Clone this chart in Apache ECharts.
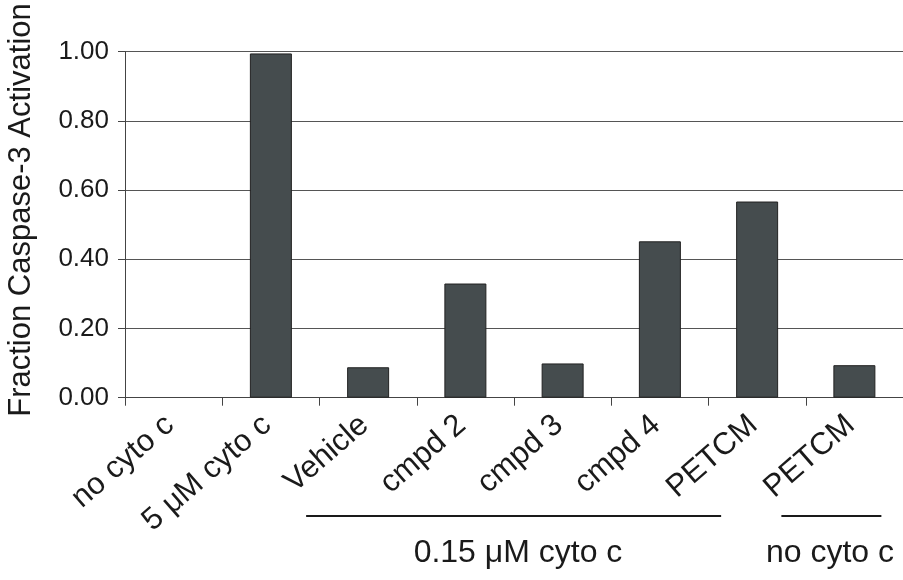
<!DOCTYPE html>
<html>
<head>
<meta charset="utf-8">
<script src="https://cdn.jsdelivr.net/npm/echarts@6/dist/echarts.min.js"></script>
<style>html,body{margin:0;padding:0;background:#fff;}#c{width:903px;height:580px;}</style>
</head>
<body>
<div id="c"></div>
<script>
const categories = ['no cyto c', '5 \u03bcM cyto c', 'Vehicle', 'cmpd 2', 'cmpd 3', 'cmpd 4', 'PETCM', 'PETCM'];
const values = [0, 0.995, 0.088, 0.330, 0.099, 0.452, 0.567, 0.094];
const yTicks = [0, 0.2, 0.4, 0.6, 0.8, 1.0];
const yTitle = 'Fraction Caspase-3 Activation';
const groups = [
  { label: '0.15 \u03bcM cyto c', from: 2, to: 6 },
  { label: 'no cyto c', from: 7, to: 7 }
];

const FONT = '"Liberation Sans", Arial, sans-serif';
const chart = echarts.init(document.getElementById('c'), null, { renderer: 'canvas' });
chart.setOption({
  animation: false,
  backgroundColor: '#fff',
  grid: { left: 125, right: -3, top: 51.7, bottom: 182.3, containLabel: false },
  xAxis: {
    type: 'category',
    data: categories,
    axisLine: { show: true, lineStyle: { color: '#444', width: 1 } },
    axisTick: { show: true, length: 8, lineStyle: { color: '#444' } },
    axisLabel: { rotate: 41, margin: 20, padding: [0, 5, 0, 0], fontSize: 31, color: '#1a1a1a', fontFamily: FONT, interval: 0 }
  },
  yAxis: {
    type: 'value',
    min: yTicks[0], max: yTicks[yTicks.length - 1], interval: 0.2,
    axisLine: { show: true, lineStyle: { color: '#444', width: 1 } },
    axisTick: { show: true, length: 7, lineStyle: { color: '#444' } },
    splitLine: { show: true, lineStyle: { color: '#555', width: 1 } },
    axisLabel: { fontSize: 26, color: '#1a1a1a', fontFamily: FONT, margin: 16, formatter: v => v.toFixed(2) }
  },
  series: [{
    type: 'bar',
    data: values.map(v => v === 0 ? { value: v, itemStyle: { borderWidth: 0 } } : v),
    barWidth: 42,
    itemStyle: { color: '#454c4e', borderColor: '#222', borderWidth: 1 }
  }]
});

function cx(i) { return chart.convertToPixel({ xAxisIndex: 0 }, i); }
const graphics = [{
  type: 'text', rotation: Math.PI / 2,
  x: 21, y: 210,
  style: { text: yTitle, font: '31px ' + FONT, fill: '#1a1a1a', textAlign: 'center', textVerticalAlign: 'middle' }
}];
const lineY = 516, textY = 553;
const g0 = groups[0], g1 = groups[1];
const a1 = cx(g0.from) - 62, b1 = cx(g0.to) - 36;
const a2 = cx(g1.from) - 73, b2 = cx(g1.to) + 27;
graphics.push({ type: 'line', shape: { x1: a1, y1: lineY, x2: b1, y2: lineY }, style: { stroke: '#1a1a1a', lineWidth: 2 } });
graphics.push({ type: 'line', shape: { x1: a2, y1: lineY, x2: b2, y2: lineY }, style: { stroke: '#1a1a1a', lineWidth: 2 } });
graphics.push({ type: 'text', x: 518, y: textY, style: { text: g0.label, font: '32px ' + FONT, fill: '#1a1a1a', textAlign: 'center', textVerticalAlign: 'middle' } });
graphics.push({ type: 'text', x: 830, y: textY, style: { text: g1.label, font: '32px ' + FONT, fill: '#1a1a1a', textAlign: 'center', textVerticalAlign: 'middle' } });
chart.setOption({ graphic: graphics });
</script>
</body>
</html>
